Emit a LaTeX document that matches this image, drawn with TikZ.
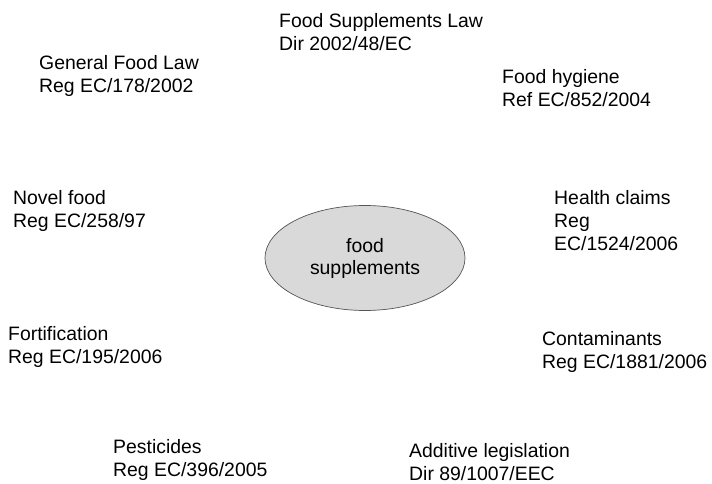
\documentclass[tikz,border=0pt]{standalone}
\usepackage{fontspec}
\setmainfont{Liberation Sans}
\usetikzlibrary{shapes.geometric}
\definecolor{ellfill}{HTML}{D9D9D9}
\definecolor{ellline}{HTML}{555555}
\begin{document}
\begin{tikzpicture}[x=1pt,y=-1pt,
  lawtext/.style={anchor=west,inner sep=0pt,align=left,font=\fontsize{19.4}{23}\selectfont},
  hub/.style={ellipse,draw=ellline,line width=0.7pt,fill=ellfill,minimum width=200pt,minimum height=105pt,inner sep=0pt,align=center,font=\fontsize{19.4}{22}\selectfont}]
\useasboundingbox (0,0) rectangle (712,484);
\node[hub] (center) at (365,258) {food\\supplements};
\node[lawtext] (fsl) at (279,32) {Food Supplements Law\\Dir 2002/48/EC};
\node[lawtext] (gfl) at (39,76) {General Food Law\\Reg EC/178/2002};
\node[lawtext] (hyg) at (502,88.5) {Food hygiene\\Ref EC/852/2004};
\node[lawtext] (nov) at (13,211) {Novel food\\Reg EC/258/97};
\node[lawtext] (hc) at (554,221) {Health claims\\Reg\\EC/1524/2006};
\node[lawtext] (fort) at (8,347) {Fortification\\Reg EC/195/2006};
\node[lawtext] (cont) at (542,351.5) {Contaminants\\Reg EC/1881/2006};
\node[lawtext] (pest) at (113,459.5) {Pesticides\\Reg EC/396/2005};
\node[lawtext] (add) at (409,462) {Additive legislation\\Dir 89/1007/EEC};
\end{tikzpicture}
\end{document}
